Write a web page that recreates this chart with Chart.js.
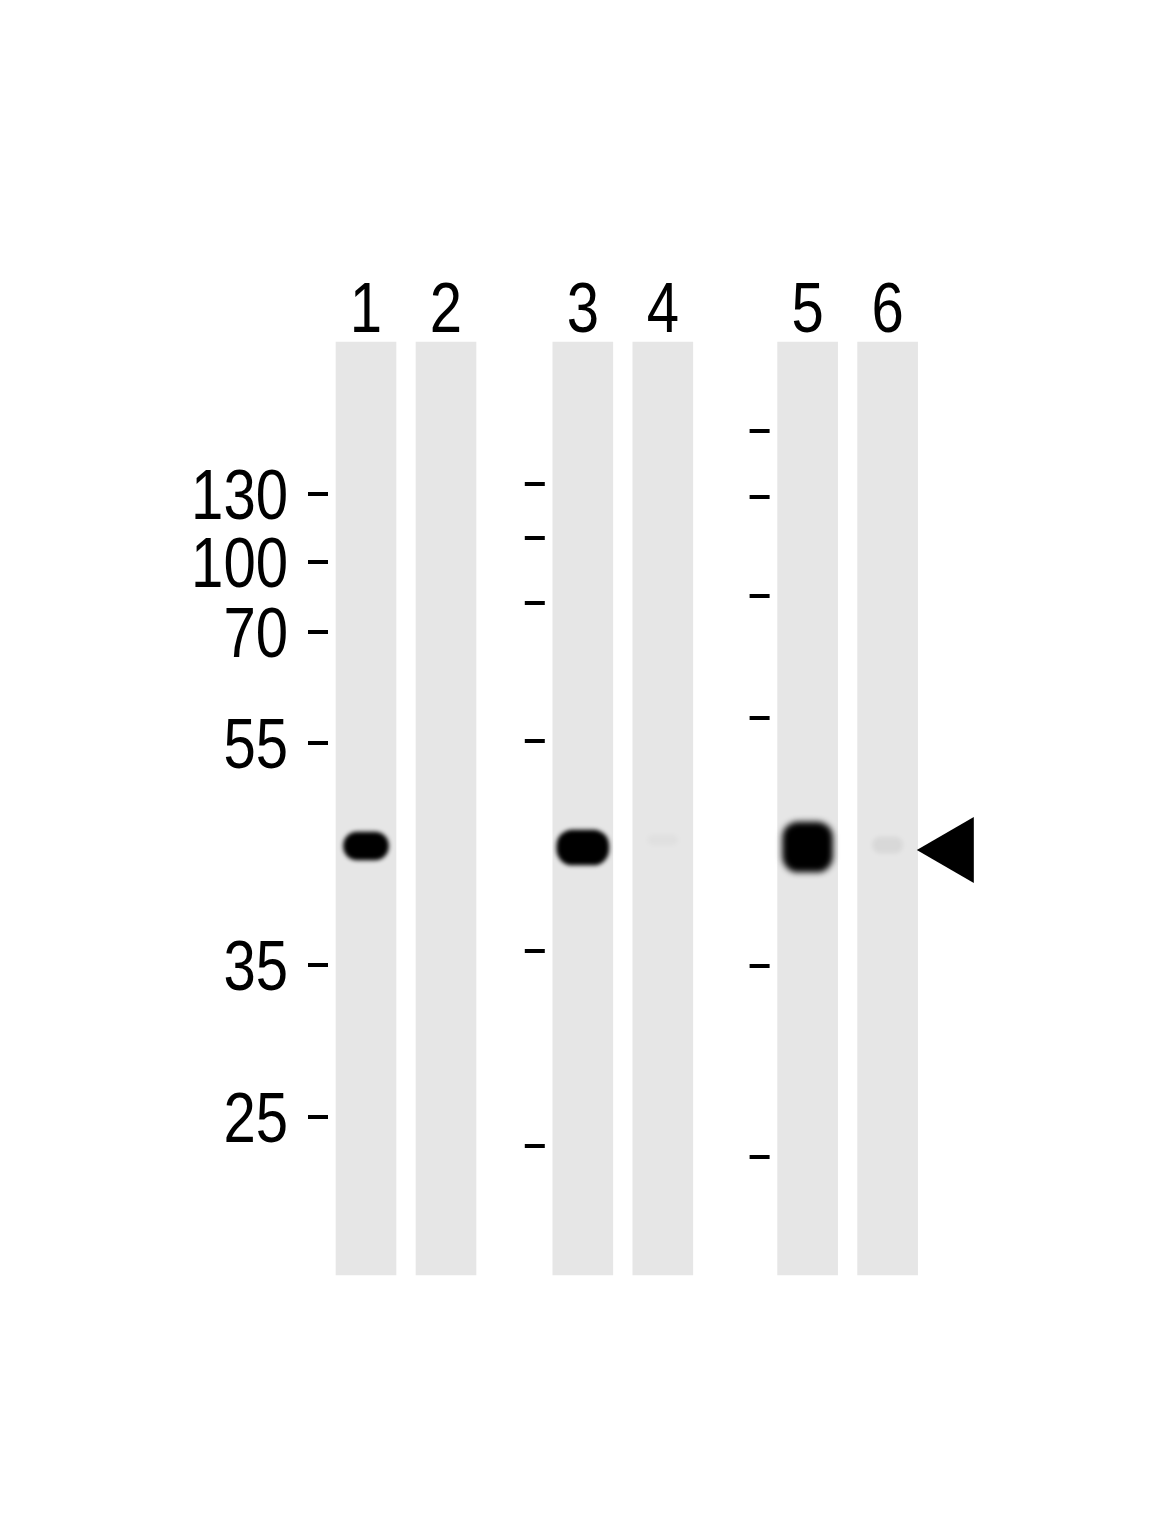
<!DOCTYPE html>
<html>
<head>
<meta charset="utf-8">
<script src="https://cdn.jsdelivr.net/npm/chart.js@4/dist/chart.umd.min.js"></script>
<style>
  html, body { margin: 0; padding: 0; background: #fff; }
  #wrap { width: 1165px; height: 1524px; }
</style>
</head>
<body>
<div id="wrap"><canvas id="blot" width="1165" height="1524"></canvas></div>
<script>
// lanes of the blot, grouped in three panels of two
const laneNames = ['1', '2', '3', '4', '5', '6'];
const laneGroup = [0, 0, 1, 1, 2, 2];
const gelRange = [0, 933]; // migration, well -> bottom of lane

// molecular weight ladder (kDa) and where each panel's ladder ran
const markerLabels = ['130', '100', '70', '55', '35', '25'];
const markerPanel1 = [152, 220, 290, 401, 623, 775];
const markerPanel2 = [142, 196, 261, 399, 609, 804];
const markerPanel3 = [89, 155, 254, 376, 624, 815];

// detected band per lane (migration top / bottom, signal 0..1)
const bandTop = [490, null, 488, 493, 480, 495];
const bandBottom = [518, null, 523, 503, 530, 511];
const bandSignal = [1, 0, 1, 0.025, 1, 0.06];
const targetBand = 508;

// styling
const PANEL_OFFSET = [0, 0.71, 1.52];
const BAND_WIDTH = [45, 0, 52, 30, 50, 30];
const BAND_BLUR = [2, 0, 2, 2, 3, 2];
const FONT = '70px "Liberation Sans", Arial, sans-serif';
const FONT_SQUEEZE = 0.83; // labels are set in a condensed face

const laneX = i => i + PANEL_OFFSET[laneGroup[i]];
const groupStart = g => laneX(laneGroup.indexOf(g));

const lanes = laneNames.map((n, i) => ({ x: laneX(i), y: gelRange.slice() }));

const markerSets = [markerPanel1, markerPanel2, markerPanel3];
const markerPoints = [];
markerSets.forEach((set, g) => {
  set.forEach((m, k) => markerPoints.push({ x: groupStart(g) - 0.6, y: m, label: g === 0 ? markerLabels[k] : '' }));
});

const bandSets = [];
laneNames.forEach((n, i) => {
  if (bandTop[i] == null) return;
  bandSets.push({
    type: 'bar',
    label: 'band ' + n,
    data: [{ x: laneX(i), y: [bandTop[i], bandBottom[i]] }],
    backgroundColor: 'rgba(0,0,0,' + bandSignal[i] + ')',
    barThickness: BAND_WIDTH[i],
    borderRadius: Math.min(16, (bandBottom[i] - bandTop[i]) / 2),
    borderSkipped: false,
    grouped: false,
    blur: BAND_BLUR[i],
    order: 1
  });
});

const blurPlugin = {
  id: 'blur',
  beforeDatasetDraw(chart, args) {
    const ds = chart.data.datasets[args.index];
    if (ds.blur) { chart.ctx.save(); chart.ctx.filter = 'blur(' + ds.blur + 'px)'; }
  },
  afterDatasetDraw(chart, args) {
    const ds = chart.data.datasets[args.index];
    if (ds.blur) chart.ctx.restore();
  }
};

function squeezedText(ctx, txt, px, py, align) {
  ctx.save();
  ctx.translate(px, py);
  ctx.scale(FONT_SQUEEZE, 1);
  ctx.textAlign = align;
  ctx.fillText(txt, 0, 0);
  ctx.restore();
}

const textPlugin = {
  id: 'texts',
  afterDatasetsDraw(chart) {
    const { ctx, scales: { x, y } } = chart;
    ctx.save();
    ctx.font = FONT;
    ctx.fillStyle = '#000';
    ctx.textBaseline = 'alphabetic';
    laneNames.forEach((n, i) => {
      squeezedText(ctx, n, x.getPixelForValue(laneX(i)), y.getPixelForValue(-10), 'center');
    });
    markerPoints.forEach(p => {
      if (!p.label) return;
      squeezedText(ctx, p.label, x.getPixelForValue(p.x) - 30, y.getPixelForValue(p.y) + 25, 'right');
    });
    ctx.restore();
  }
};

new Chart(document.getElementById('blot'), {
  type: 'bar',
  data: {
    datasets: [
      {
        label: 'lanes',
        data: lanes,
        backgroundColor: '#e6e6e6',
        barThickness: 60,
        grouped: false,
        order: 3
      },
      ...bandSets,
      {
        type: 'scatter',
        label: 'markers',
        data: markerPoints,
        pointStyle: 'line',
        radius: 10,
        borderWidth: 4,
        borderColor: '#000',
        order: 0
      },
      {
        type: 'scatter',
        label: 'arrow',
        data: [{ x: laneX(5) + 0.84, y: targetBand }],
        pointStyle: 'triangle',
        rotation: -90,
        radius: 38,
        borderWidth: 0,
        backgroundColor: '#000',
        order: 0
      }
    ]
  },
  options: {
    responsive: false,
    animation: false,
    devicePixelRatio: 1,
    layout: { padding: 0, autoPadding: false },
    plugins: { legend: { display: false }, tooltip: { enabled: false } },
    scales: {
      x: { type: 'linear', display: false, offset: false, grid: { offset: false },
           min: -4.575, max: -4.575 + 1165 / 80 },
      y: { type: 'linear', display: false, min: -342, max: 1182, reverse: true }
    }
  },
  plugins: [blurPlugin, textPlugin]
});
</script>
</body>
</html>
